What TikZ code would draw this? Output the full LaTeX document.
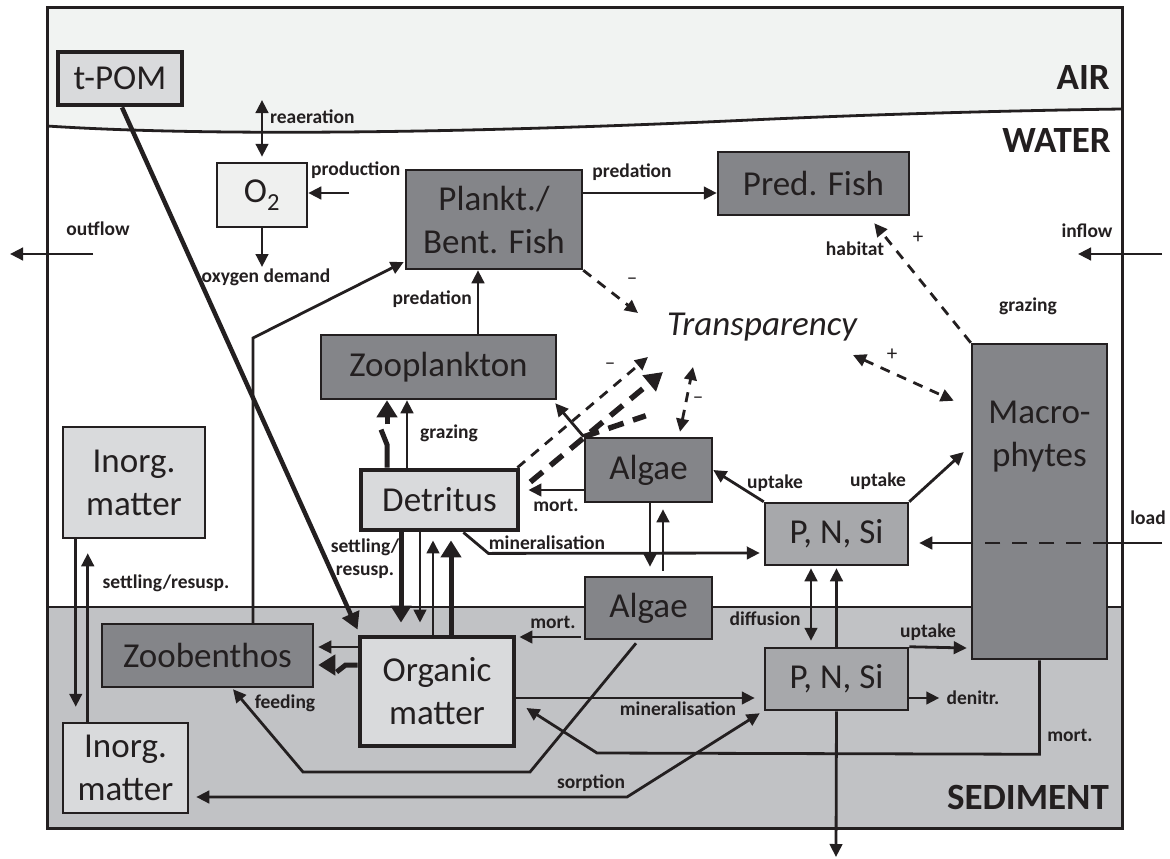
\documentclass[tikz,border=0pt]{standalone}
\usepackage{fontspec}
\setmainfont{Carlito}
\usetikzlibrary{arrows.meta,calc}
\definecolor{ink}{HTML}{231F20}
\definecolor{airbg}{HTML}{F1F3F2}
\definecolor{sedbg}{HTML}{C1C2C5}
\definecolor{boxdark}{HTML}{848589}
\definecolor{boxmid}{HTML}{A7A8AB}
\definecolor{boxlight}{HTML}{D9DADC}
\definecolor{boxpale}{HTML}{EFF0EF}
\newcommand{\bxfont}{\fontsize{35}{43}\selectfont}
\newcommand{\lbfont}{\fontsize{19.5}{23}\selectfont\bfseries}
\newcommand{\znfont}{\fontsize{37}{40}\selectfont\bfseries}
\newcommand{\trfont}{\fontsize{35}{40}\selectfont\itshape}
\newcommand{\sgfont}{\fontsize{21}{23}\selectfont}
\begin{document}
\begin{tikzpicture}[x=1pt,y=-1pt,
  boxbase/.style={draw=ink,line width=2.5pt,rectangle,inner sep=0pt,align=center,font=\bxfont,text=ink},
  boxD/.style={boxbase,fill=boxdark},
  boxM/.style={boxbase,fill=boxmid},
  boxL/.style={boxbase,fill=boxlight},
  boxH/.style={boxL,line width=4.8pt},
  lbl/.style={font=\lbfont,text=ink,inner sep=0pt,align=center},
  sign/.style={font=\sgfont,text=ink,inner sep=0pt},
  zonelbl/.style={font=\znfont,text=ink,inner sep=0pt,anchor=east},
  flow/.style={draw=ink,line width=2.8pt,-{Triangle[length=13pt,width=12.5pt]}},
  twoway/.style={draw=ink,line width=2.8pt,{Triangle[length=13pt,width=12.5pt]}-{Triangle[length=13pt,width=12.5pt]}},
  bigflow/.style={draw=ink,line width=5pt,-{Triangle[length=17pt,width=20pt]}},
  bigline/.style={draw=ink,line width=5pt},
  thinline/.style={draw=ink,line width=2.8pt},
  effect/.style={flow,dash pattern=on 10pt off 8pt},
  effect2way/.style={twoway,dash pattern=on 10pt off 8pt},
  bigeffect/.style={draw=ink,line width=5.5pt,dash pattern=on 16pt off 10pt,-{Triangle[length=18pt,width=20pt]}},
  bigdashline/.style={draw=ink,line width=5.5pt,dash pattern=on 16pt off 10pt},
]
\useasboundingbox (0,0) rectangle (1170,859);
\fill[white] (0,0) rectangle (1170,859);

% compartments: air, water, sediment
\fill[airbg] (47,8) -- (1122,8) -- (1122,109) .. controls (1050,110) and (900,113) .. (750,120)
   .. controls (450,134) and (200,136) .. (47,126) -- cycle;
\fill[sedbg] (47,607) rectangle (1122,828);
\draw[ink,line width=2.8pt] (47,126) .. controls (200,136) and (450,134) .. (750,120)
   .. controls (900,113) and (1050,110) .. (1122,109);
\draw[ink,line width=2.8pt] (47,607) -- (1122,607);
\draw[ink,line width=3pt] (47,8) rectangle (1122,828);

\node[zonelbl] (air) at (1110,78) {AIR};
\node[zonelbl] (water) at (1111,141) {WATER};
\node[zonelbl] (sediment) at (1109,797) {SEDIMENT};

% state variables
\node[boxH,minimum width=124pt,minimum height=53pt] (tpom) at (120,78.5) {t-POM};
\node[boxbase,fill=boxpale,minimum width=90pt,minimum height=64pt] (o2) at (262,195) {O\textsubscript{2}};
\node[boxD,minimum width=176pt,minimum height=99pt] (fish) at (494,219.5) {Plankt./\\Bent. Fish};
\node[boxD,minimum width=191pt,minimum height=63pt] (pred) at (813.5,183.5) {Pred. Fish};
\node[boxD,minimum width=235pt,minimum height=64pt] (zoo) at (438.5,367) {Zooplankton};
\node[boxH,minimum width=157pt,minimum height=60pt] (det) at (439.5,500) {Detritus};
\node[boxD,minimum width=127pt,minimum height=64pt] (alg1) at (648.5,470) {Algae};
\node[boxD,minimum width=127pt,minimum height=62pt] (alg2) at (648.5,608) {Algae};
\node[boxM,minimum width=143pt,minimum height=62pt] (pns1) at (836.5,534) {P, N, Si};
\node[boxM,minimum width=143pt,minimum height=62pt] (pns2) at (836.5,679) {P, N, Si};
\node[boxD,minimum width=135pt,minimum height=315pt] (mac) at (1039.5,501.5) {};
\node[font=\bxfont,text=ink,align=center,inner sep=0pt] (mactext) at (1039.5,437) {Macro-\\phytes};
\node[boxH,minimum width=154pt,minimum height=109pt] (om) at (437,691.5) {Organic\\matter};
\node[boxD,minimum width=211pt,minimum height=63pt] (zb) at (207.5,655.5) {Zoobenthos};
\node[boxL,minimum width=142pt,minimum height=111pt] (in1) at (134,482.5) {Inorg.\\matter};
\node[boxL,minimum width=125pt,minimum height=90pt] (in2) at (125.5,768) {Inorg.\\matter};
\node[font=\trfont,text=ink,inner sep=0pt] (tr) at (762,327) {Transparency};

% free ends of boundary fluxes
\coordinate (reatop) at (262,100);
\coordinate (prodin) at (349,193);
\coordinate (oxout) at (262,267);
\coordinate (outA) at (93,254);
\coordinate (outB) at (10,254);
\coordinate (inA) at (1162,254);
\coordinate (inB) at (1078,254);
\coordinate (loadin) at (1162,543);
\coordinate (burial) at (836,857);
% ends of the effect arrows around transparency
\coordinate (trA) at (638,313);
\coordinate (trB) at (648,357);
\coordinate (trC) at (663,372);
\coordinate (trD) at (693,367);
\coordinate (trE) at (853,355);

% oxygen
\draw[twoway] (reatop) -- ($(o2.north)+(0,-5)$);
\draw[flow] (prodin) -- ($(o2.east)+(0,-2)$);
\draw[flow] (o2.south) -- (oxout);
\node[lbl,anchor=west] (lreae) at (270,117) {reaeration};
\node[lbl,anchor=west] (lprod) at (311,170) {production};
\node[lbl] (loxd) at (266,277) {oxygen demand};

% in- and outflow
\draw[flow] (outA) -- (outB);
\node[lbl] (lout) at (98,229) {outflow};
\draw[flow] (inA) -- (inB);
\node[lbl] (lin) at (1087,231) {inflow};

% food web
\draw[flow] ($(fish.east)+(0,-26.5)$) -- ($(pred.west)+(0,9.5)$);
\node[lbl] (lpred1) at (632,172) {predation};
\draw[flow] ($(zoo.north)+(39.5,0)$) -- ($(fish.south)+(-16,0)$);
\node[lbl,anchor=east] (lpred2) at (472,299) {predation};
\draw[flow] ($(zb.north)+(45.5,0)$) -- (253,338) -- ($(fish.west)+(-1,42.5)$);

% detritus to zooplankton (switchable and direct)
\draw[bigline] ($(det.north)+(-52.5,0)$) -- ++(0,-23) -- ++(-6,-15);
\draw[bigflow] ($(zoo.south)+(-51.5,24)$) -- ($(zoo.south)+(-51.5,0)$);
\draw[flow] ($(det.north)+(-32.5,0)$) -- ($(zoo.south)+(-31.5,0)$);
\node[lbl] (lgraz1) at (449,433) {grazing};

% detritus <-> organic matter
\draw[bigflow] ($(det.south)+(-38.5,0)$) -- ($(om.north)+(-36,-12)$);
\draw[flow] ($(det.south)+(-19.5,0)$) -- ($(om.north)+(-17,-12)$);
\draw[flow] ($(om.north)+(-4,0)$) -- ($(det.south)+(-6.5,8)$);
\draw[bigflow] ($(om.north)+(14,0)$) -- ($(det.south)+(11.5,8)$);
\node[lbl] (lsett1) at (365,559) {settling/\\resusp.};

% mineralisation in the water column
\draw[flow] ($(det.south east)+(-57,0)$) -- ++(25,21) -- ($(pns1.west)+(-4,19)$);
\node[lbl] (lmin1) at (547,543) {mineralisation};

% algae
\draw[flow] ($(alg1.west)+(0,20)$) -- ($(det.east)+(8,-10)$);
\node[lbl] (lmort1) at (556,505) {mort.};
\draw[flow] (alg1.north west) -- ($(zoo.south east)+(-2,3)$);
\draw[flow] (pns1.north west) -- (alg1.east);
\node[lbl] (lupt1) at (775,483) {uptake};
\draw[flow] (pns1.north east) -- ($(mac.west)+(-7,-49.5)$);
\node[lbl] (lupt2) at (878,481) {uptake};
\draw[flow] ($(alg1.south)+(1.5,0)$) -- ($(alg2.north)+(1.5,-9)$);
\draw[flow] ($(alg2.north)+(14.5,-5)$) -- ($(alg1.south)+(14.5,6)$);
\draw[flow] ($(alg2.west)+(-3,29)$) -- ($(om.east)+(3,-54.5)$);
\node[lbl] (lmort2) at (553,622) {mort.};
\draw[flow] ($(alg2.south)+(-12.5,3)$) -- (530,772) -- (303,772) -- ($(zb.south)+(25.5,1)$);
\node[lbl] (lfeed) at (285,703) {feeding};

% organic matter to zoobenthos
\draw[flow] ($(om.west)+(0,-44.5)$) -- ($(zb.east)+(4,-8.5)$);
\draw[bigline] ($(om.west)+(0,-26.5)$) -- ++(-12,0) -- ++(-9,7);
\draw[bigflow] ($(zb.east)+(21,9.5)$) -- ($(zb.east)+(4,9.5)$);

% terrestrial particulate organic matter
\draw[draw=ink,line width=4.5pt,-{Triangle[length=17pt,width=18pt]}] ($(tpom.south)+(2,0)$) -- ($(om.north west)+(0,-5)$);

% inorganic matter
\draw[flow] ($(in1.south west)+(14,0)$) -- ($(in2.north west)+(14,-15)$);
\draw[flow] ($(in2.north west)+(26,0)$) -- ($(in1.south west)+(26,14)$);
\node[lbl] (lsett2) at (166,583) {settling/resusp.};
\draw[twoway] ($(in2.east)+(7,29)$) -- (627,797) -- ($(pns2.south west)+(-4,2)$);
\node[lbl] (lsorp) at (591,783) {sorption};

% sediment nutrients
\draw[flow] ($(om.east)+(0,6.5)$) -- ($(pns2.west)+(-9,19)$);
\node[lbl] (lmin2) at (678,709) {mineralisation};
\draw[flow] (mac.south) -- ++(0,94) -- (597,753) -- ($(om.east)+(10,16.5)$);
\node[lbl] (lmort3) at (1070,735) {mort.};
\draw[flow] (pns2.north east) -- ($(mac.west)+(-4,146.5)$);
\node[lbl] (lupt3) at (928,632) {uptake};
\draw[flow] ($(pns2.east)+(0,19)$) -- ++(30,0);
\node[lbl] (ldenit) at (973,698) {denitr.};
\draw[flow] (pns2.south) -- (burial);
\draw[twoway] ($(pns1.south)+(-25.5,2)$) -- ($(pns2.north)+(-25.5,-6)$);
\draw[flow] (pns2.north) -- ($(pns1.south)+(0,2)$);
\node[lbl] (ldiff) at (765,619) {diffusion};

% external load
\draw[thinline] (loadin) -- ($(mac.east)+(0,41.5)$);
\draw[thinline,dash pattern=on 15pt off 12pt] ($(mac.east)+(0,41.5)$) -- ($(mac.west)+(0,41.5)$);
\draw[flow] ($(mac.west)+(0,41.5)$) -- ($(pns1.east)+(10,9)$);
\node[lbl] (lload) at (1148,518) {load};
\node[lbl] (lgraz2) at (1028,306) {grazing};

% effects on transparency and habitat
\draw[effect] (fish.south east) -- (trA);
\node[sign] (s1) at (632,281) {\textendash};
\draw[effect] ($(det.north east)+(-3,0)$) -- (trB);
\node[sign] (s2) at (610,366) {\textendash};
\draw[bigeffect] ($(det.east)+(10,-18)$) -- (trC);
\draw[bigdashline] (alg1.north west) -- ++(62,-21);
\draw[effect2way] ($(alg1.north)+(31.5,-5)$) -- (trD);
\node[sign] (s3) at (698,400) {\textendash};
\draw[effect2way] (trE) -- ($(mac.north west)+(-17,58)$);
\node[sign] (s4) at (892,355) {+};
\draw[effect] (mac.north west) -- ($(pred.south east)+(-36,7)$);
\node[sign] (s5) at (918,238) {+};
\node[lbl] (lhab) at (855,249) {habitat};
\end{tikzpicture}
\end{document}
